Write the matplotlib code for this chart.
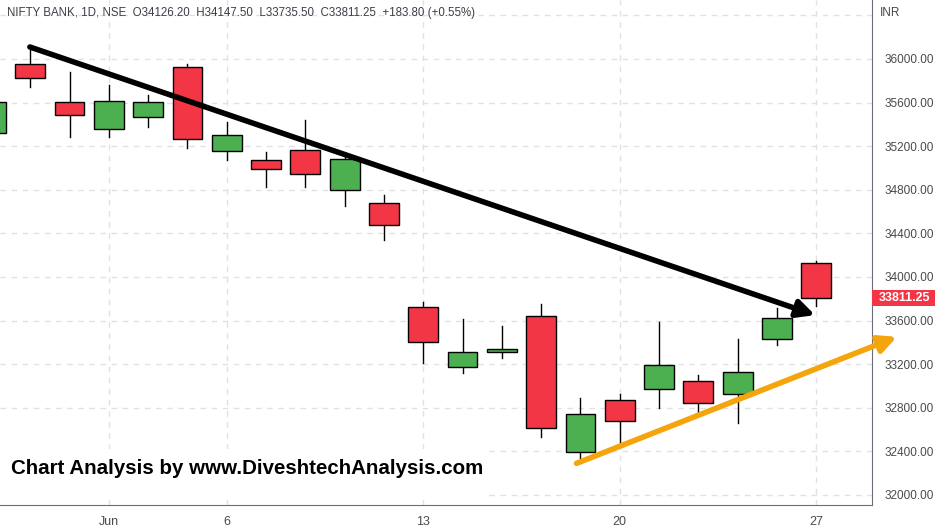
import numpy as np
import matplotlib
matplotlib.use("Agg")
import matplotlib.pyplot as plt
from matplotlib.patches import Rectangle

### data
dates = ["May 27", "May 30", "May 31", "Jun 1", "Jun 2", "Jun 3", "Jun 6", "Jun 7",
         "Jun 8", "Jun 9", "Jun 10", "Jun 13", "Jun 14", "Jun 15", "Jun 16", "Jun 17",
         "Jun 20", "Jun 21", "Jun 22", "Jun 23", "Jun 24", "Jun 27"]
opens  = [35318, 35951, 35603, 35355, 35465, 35924, 35153, 35071, 35162, 34796, 34676,
          33722, 33172, 33309, 33642, 32392, 32872, 32970, 33043, 32924, 33428, 34126.20]
highs  = [35650, 36107, 35878, 35761, 35670, 35954, 35422, 35147, 35440, 35110, 34752,
          33768, 33612, 33551, 33752, 32890, 32927, 33587, 33101, 33430, 33715, 34147.50]
lows   = [35280, 35746, 35287, 35287, 35379, 35181, 35070, 34829, 34829, 34654, 34342,
          33214, 33122, 33252, 32535, 32306, 32474, 32802, 32757, 32657, 33376, 33735.50]
closes = [35603, 35823, 35484, 35612, 35603, 35263, 35300, 34988, 34942, 35080, 34474,
          33401, 33309, 33337, 32611, 32740, 32679, 33190, 32841, 33126, 33621, 33811.25]

tick_idx = [3, 6, 11, 16, 21]
tick_lbl = ["Jun", "6", "13", "20", "27"]
price_ticks = list(range(32000, 36001, 400))

# trend lines (index, price)
down_line = [(0.99, 36110), (20.97, 33650)]
up_line = [(14.9, 32290), (23.05, 33450)]

UP = "#4CAF50"
DOWN = "#F23645"

fig = plt.figure(figsize=(9.4, 5.31), dpi=100)
ax = fig.add_axes([0.0, 0.049, 0.9277, 0.951])

x = np.arange(len(dates))
w = 0.76
for i in x:
    o, h, l, c = opens[i], highs[i], lows[i], closes[i]
    col = UP if c >= o else DOWN
    ax.plot([i, i], [l, h], color="black", lw=1.0, zorder=2)
    ax.add_patch(Rectangle((i - w / 2, min(o, c)), w, abs(c - o), facecolor=col,
                           edgecolor="black", lw=1.0, zorder=3))

ax.set_xlim(0.23, 22.42)
ax.set_ylim(31908, 36541)

ax.set_xticks(tick_idx)
ax.set_xticklabels(tick_lbl)
ax.yaxis.tick_right()
ax.set_yticks(price_ticks + [36400])
ax.set_yticklabels(["%.2f" % p for p in price_ticks] + [""])
ax.tick_params(axis="y", length=0, pad=9, labelsize=8.5, labelcolor="#4a4a4a")
ax.tick_params(axis="x", length=0, pad=8, labelsize=9, labelcolor="#4a4a4a")
for lab in ax.get_xticklabels() + ax.get_yticklabels():
    lab.set_fontfamily("Liberation Sans")

ax.grid(True, color="#e0e1e6", ls=(0, (4, 4)), lw=1)
ax.set_axisbelow(True)
for s in ["top", "left"]:
    ax.spines[s].set_visible(False)
ax.spines["right"].set_color("#6b6e78")
ax.spines["bottom"].set_color("#6b6e78")

### trend arrows
ax.annotate("", xy=down_line[1], xytext=down_line[0],
            arrowprops=dict(arrowstyle="-|>", color="black", lw=4, mutation_scale=26,
                            shrinkA=0, shrinkB=0), zorder=5)
ax.annotate("", xy=up_line[1], xytext=up_line[0], annotation_clip=False,
            arrowprops=dict(arrowstyle="-|>", color="#F5A50C", lw=4, mutation_scale=26,
                            shrinkA=0, shrinkB=0, clip_on=False), zorder=5)

### header + labels
fig.text(7 / 940, 1 - 13 / 531,
         "NIFTY BANK, 1D, NSE  O34126.20  H34147.50  L33735.50  C33811.25  +183.80 (+0.55%)",
         fontsize=8.3, color="#3c3f48", va="center", family="Liberation Sans")
fig.text(880 / 940, 1 - 13 / 531, "INR", fontsize=8.5, color="#4a4a4a", va="center",
         family="Liberation Sans")

# last price tag
px = 9.174  # price per pixel
ax.add_patch(Rectangle((1.0, closes[-1] - 8 * px), 63 / 872, 16 * px,
                       transform=ax.get_yaxis_transform(), fc=DOWN, ec="none",
                       clip_on=False, zorder=6))
ax.text(1.0 + 32 / 872, closes[-1], "33811.25", transform=ax.get_yaxis_transform(),
        fontsize=9, fontweight="bold", color="white", va="center", ha="center",
        family="Liberation Sans", clip_on=False, zorder=7)

fig.patches.append(Rectangle((0, 1 - 500 / 531), 486 / 940, 51 / 531,
                             transform=fig.transFigure, fc="white", ec="none", zorder=6))
fig.text(11 / 940, 1 - 468 / 531, "Chart Analysis by www.DiveshtechAnalysis.com",
         fontsize=14.8, fontweight="bold", color="black", va="center",
         family="Liberation Sans", zorder=7)

fig.savefig("out.png", dpi=100)
